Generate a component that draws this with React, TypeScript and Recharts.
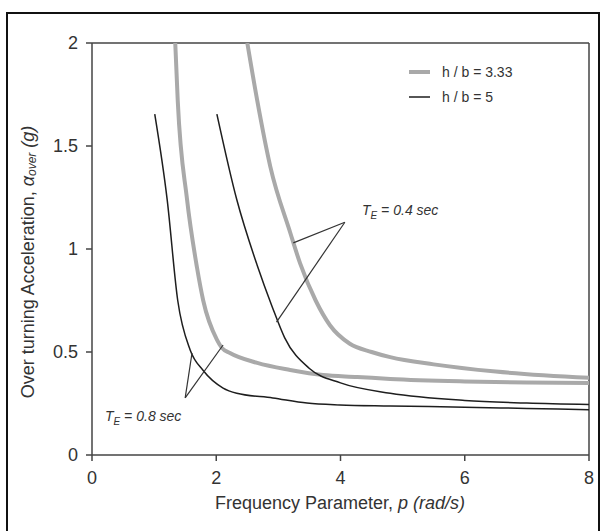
import React from "react";
import { LineChart, Line, XAxis, YAxis, ReferenceLine, Legend, Label } from "recharts";

// h/b = 3.33 (thick gray), h/b = 5 (thin black); two earthquake periods each
const grayTE08P = [1.34, 1.38, 1.53, 1.69, 1.79, 2.01, 2.09, 2.22, 2.66, 3.19, 3.72, 4.27, 4.8, 6, 7, 8];
const grayTE08V = [2.0, 1.72, 1.24, 0.91, 0.75, 0.56, 0.52, 0.495, 0.447, 0.413, 0.388, 0.379, 0.369, 0.357, 0.352, 0.35];

const grayTE04P = [2.5, 2.66, 2.87, 3.19, 3.35, 3.6, 3.83, 4.15, 4.5, 4.8, 5.5, 6.5, 8];
const grayTE04V = [2.0, 1.72, 1.4, 1.08, 0.93, 0.75, 0.63, 0.54, 0.5, 0.475, 0.44, 0.405, 0.375];

const blackTE08P = [1.01, 1.21, 1.38, 1.58, 1.79, 2.11, 2.33, 2.91, 3.46, 3.99, 4.8, 6, 7, 8];
const blackTE08V = [1.655, 1.24, 0.75, 0.51, 0.41, 0.325, 0.3, 0.277, 0.252, 0.243, 0.238, 0.232, 0.226, 0.22];

const blackTE04P = [2.01, 2.33, 2.66, 2.9, 3.1, 3.5, 4.0, 4.8, 6, 7, 8];
const blackTE04V = [1.655, 1.24, 0.92, 0.72, 0.57, 0.42, 0.35, 0.3, 0.265, 0.252, 0.245];

const xTicks = [0, 2, 4, 6, 8];
const yTicks = [0, 0.5, 1, 1.5, 2];

// annotation leader lines (data coords): apex, then the two curve points
const te04Apex = { x: 4.07, y: 1.13 };
const te04Ends = [{ x: 3.24, y: 1.03 }, { x: 2.97, y: 0.645 }];
const te08Apex = { x: 1.5, y: 0.277 };
const te08Ends = [{ x: 1.61, y: 0.495 }, { x: 2.11, y: 0.534 }];

const zip = (p: number[], v: number[]) => p.map((x, i) => ({ p: x, v: v[i] }));

const FONT = '"Liberation Sans", Arial, sans-serif';
const TXT = "#333";
const GRAY = "#a9a9a9";
const BLACK = "#1e1e1e";

const renderLegend = () => (
  <div style={{ fontFamily: FONT, fontSize: 14, color: TXT }}>
    <div style={{ display: "flex", alignItems: "center", height: 25 }}>
      <svg width={33} height={10}>
        <line x1={0} y1={5} x2={21} y2={5} stroke={GRAY} strokeWidth={4} />
      </svg>
      <span>h / b = 3.33</span>
    </div>
    <div style={{ display: "flex", alignItems: "center", height: 25 }}>
      <svg width={33} height={10}>
        <line x1={0} y1={5} x2={21} y2={5} stroke={BLACK} strokeWidth={1.5} />
      </svg>
      <span>h / b = 5</span>
    </div>
  </div>
);

const yTitle = () => (
  <text
    x={28}
    y={262}
    transform="rotate(-90, 28, 262)"
    textAnchor="middle"
    dominantBaseline="central"
    fill={TXT}
    fontSize={18}
    fontFamily={FONT}
  >
    Over turning Acceleration,{" "}
    <tspan fontStyle="italic">α</tspan>
    <tspan fontStyle="italic" fontSize={12} dy={4}>over</tspan>
    <tspan fontStyle="italic" dy={-4}> (g)</tspan>
  </text>
);

const xTitle = () => (
  <text x={340} y={503} textAnchor="middle" dominantBaseline="central" fill={TXT} fontSize={18} fontFamily={FONT}>
    Frequency Parameter, <tspan fontStyle="italic">p (rad/s)</tspan>
  </text>
);

const teLabel = (left: number, top: number, value: string) => (
  <div
    style={{
      position: "absolute",
      left,
      top,
      fontFamily: FONT,
      fontSize: 14,
      fontStyle: "italic",
      color: TXT,
      whiteSpace: "nowrap",
    }}
  >
    T<sub style={{ fontSize: 10 }}>E</sub> = {value} sec
  </div>
);

export default function App() {
  return (
    <div style={{ position: "absolute", left: 0, top: 0, width: 606, height: 531, background: "#fff", overflow: "hidden" }}>
      <div
        style={{
          position: "absolute",
          left: 6,
          top: 12,
          width: 594,
          height: 540,
          border: "2px solid #111",
          boxSizing: "border-box",
        }}
      />
      <div style={{ position: "absolute", left: 0, top: 0 }}>
        <LineChart width={606} height={531} margin={{ top: 43, right: 17, bottom: 46, left: 52 }}>
          <XAxis
            type="number"
            dataKey="p"
            domain={[0, 8]}
            ticks={xTicks}
            height={30}
            stroke="#444"
            strokeWidth={1.5}
            tickSize={6}
            tickMargin={10}
            tick={{ fill: TXT, fontSize: 18, fontFamily: FONT }}
            allowDataOverflow
          >
            <Label content={xTitle} />
          </XAxis>
          <YAxis
            type="number"
            domain={[0, 2]}
            ticks={yTicks}
            width={40}
            stroke="#444"
            strokeWidth={1.5}
            tickSize={6}
            tickMargin={8}
            tick={{ fill: TXT, fontSize: 18, fontFamily: FONT }}
            allowDataOverflow
          >
            <Label content={yTitle} />
          </YAxis>
          <ReferenceLine y={2} stroke="#444" strokeWidth={1.5} />
          <ReferenceLine x={8} stroke="#444" strokeWidth={1.5} />
          <Line data={zip(grayTE08P, grayTE08V)} dataKey="v" type="monotone" stroke={GRAY} strokeWidth={4} dot={false} isAnimationActive={false} />
          <Line data={zip(grayTE04P, grayTE04V)} dataKey="v" type="monotone" stroke={GRAY} strokeWidth={4} dot={false} isAnimationActive={false} />
          <Line data={zip(blackTE08P, blackTE08V)} dataKey="v" type="monotone" stroke={BLACK} strokeWidth={1.5} dot={false} isAnimationActive={false} />
          <Line data={zip(blackTE04P, blackTE04V)} dataKey="v" type="monotone" stroke={BLACK} strokeWidth={1.5} dot={false} isAnimationActive={false} />
          {te04Ends.map((e, i) => (
            <ReferenceLine key={"a" + i} segment={[te04Apex, e]} stroke="#333" strokeWidth={1.2} />
          ))}
          {te08Ends.map((e, i) => (
            <ReferenceLine key={"b" + i} segment={[te08Apex, e]} stroke="#333" strokeWidth={1.2} />
          ))}
          <Legend
            content={renderLegend}
            layout="vertical"
            verticalAlign="middle"
            align="center"
            wrapperStyle={{ position: "absolute", left: 409, top: 59, width: 140 }}
          />
        </LineChart>
      </div>
      {teLabel(362, 202, "0.4")}
      {teLabel(105, 408, "0.8")}
    </div>
  );
}
